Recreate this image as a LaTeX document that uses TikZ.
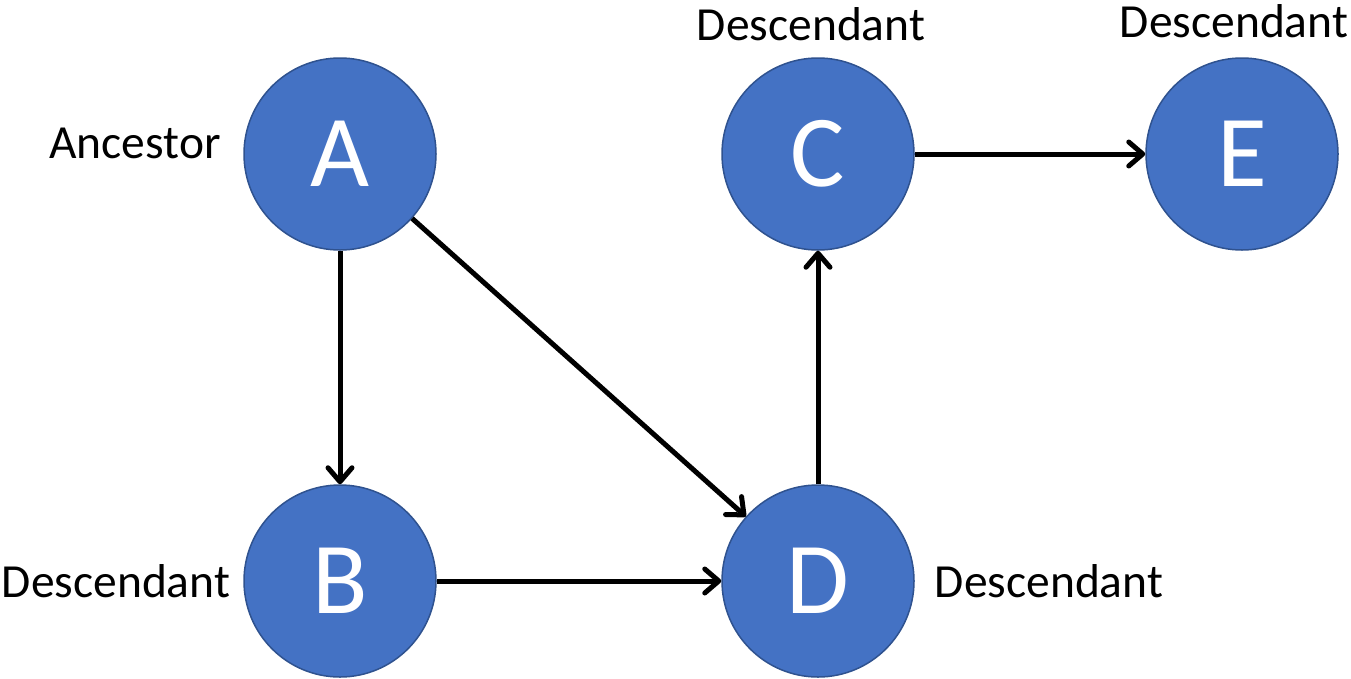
\documentclass[tikz,border=0pt]{standalone}
\usepackage{fontspec}
\setmainfont{Carlito}
\usetikzlibrary{arrows.meta}
\definecolor{nodefill}{HTML}{4472C4}
\definecolor{nodeedge}{HTML}{2F528F}
\begin{document}
\begin{tikzpicture}[x=1pt,y=-1pt,
  vertex/.style={circle,fill=nodefill,draw=nodeedge,line width=1.5pt,
    minimum size=192pt,inner sep=0pt,text=white,font=\fontsize{102}{102}\selectfont},
  tag/.style={font=\fontsize{47.5}{50}\selectfont,inner sep=0pt},
  link/.style={line width=5pt,-{Straight Barb[length=14pt,width=24pt,line width=5pt,line cap=round,round]}}]
\useasboundingbox (0,0) rectangle (1351,678);
\node[vertex] (A) at (340,154) {A};
\node[vertex] (B) at (340,581) {B};
\node[vertex] (C) at (818,154) {C};
\node[vertex] (D) at (818,581) {D};
\node[vertex] (E) at (1242,154) {E};
\node[tag] (tA) at (135,143) {Ancestor};
\node[tag] (tB) at (116,581) {Descendant};
\node[tag] (tC) at (811,24) {Descendant};
\node[tag] (tD) at (1049,581) {Descendant};
\node[tag] (tE) at (1234,21) {Descendant};
\draw[link] (A) -- (B);
\draw[link] (A) -- (D);
\draw[link] (B) -- (D);
\draw[link] (D) -- (C);
\draw[link] (C) -- (E);
\end{tikzpicture}
\end{document}
